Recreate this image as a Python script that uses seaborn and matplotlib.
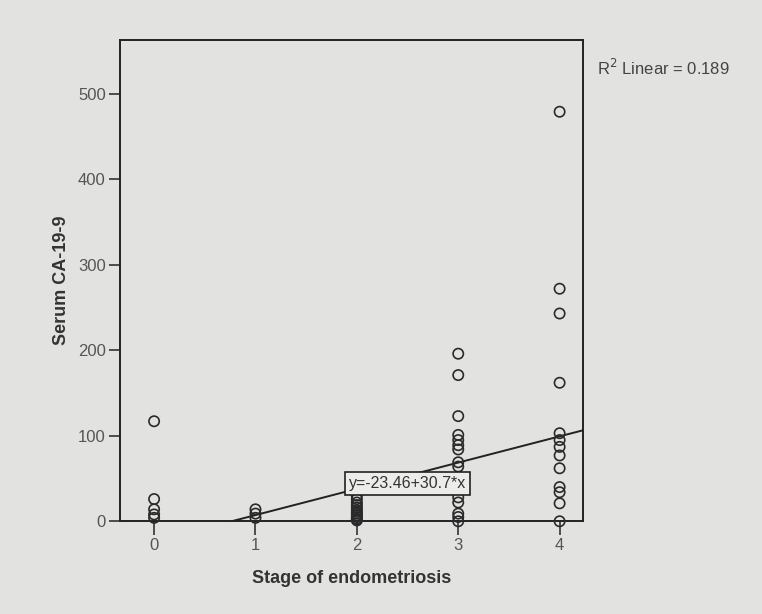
import matplotlib
matplotlib.use("Agg")
import matplotlib.pyplot as plt
import seaborn as sns
import numpy as np
import pandas as pd

# Data
stage0 = [117, 26, 14, 8, 4]
stage1 = [14, 9, 4]
stage2 = [30, 26, 22, 19, 16, 13, 11, 9, 7, 5, 3, 2, 1]
stage3 = [196, 171, 123, 101, 95, 89, 84, 69, 64, 52, 45, 38, 28, 22, 9, 5, 0]
stage4 = [479, 272, 243, 162, 103, 95, 87, 77, 62, 40, 34, 21, 0]
stages = [0, 1, 2, 3, 4]
intercept = -23.46
slope = 30.7
r2 = 0.189
yticks = [0, 100, 200, 300, 400, 500]

rows = []
for s, vals in zip(stages, [stage0, stage1, stage2, stage3, stage4]):
    for v in vals:
        rows.append((s, v))
df = pd.DataFrame(rows, columns=["stage", "ca199"])

sns.set_style("white")
plt.rcParams['font.family'] = ['Liberation Sans', 'DejaVu Sans']

bg = '#e2e3e1'
fig = plt.figure(figsize=(7.62, 6.14), dpi=100, facecolor=bg)
ax = fig.add_axes([0.157, 0.151, 0.608, 0.784])
ax.set_facecolor(bg)

sns.scatterplot(data=df, x="stage", y="ca199", ax=ax, marker='o', s=55,
                facecolor='none', edgecolor='#2a2a2a', linewidth=1.2, zorder=3,
                clip_on=False)

xlim = (-0.34, 4.23)
ylim = (0, 563)
line_x = np.array(xlim)
line_df = pd.DataFrame({"x": line_x, "y": intercept + slope * line_x})
sns.lineplot(data=line_df, x="x", y="y", ax=ax, color='#222222', linewidth=1.4, zorder=2)

ax.set_xlim(*xlim)
ax.set_ylim(*ylim)
ax.set_xticks(stages)
ax.set_yticks(yticks)
ax.tick_params(axis='both', which='major', direction='out', length=8, width=1.2,
               bottom=True, left=True, top=False, right=False,
               colors='#333333', labelcolor='#555555', labelsize=12, pad=2)
ax.tick_params(axis='x', length=10)
for sp in ax.spines.values():
    sp.set_color('#222222')
    sp.set_linewidth(1.4)

ax.set_xlabel("Stage of endometriosis", fontsize=13, fontweight='bold', color='#333333', labelpad=12)
ax.set_ylabel("Serum CA-19-9", fontsize=13, fontweight='bold', color='#333333', labelpad=6)

ax.text(2.5, 44, "y=-23.46+30.7*x", fontsize=11.5, color='#333333', ha='center', va='center',
        zorder=5, bbox=dict(boxstyle='square,pad=0.25', facecolor='#ececea', edgecolor='#222222', linewidth=1.2))

fig.text(0.783, 0.889, "R$^2$ Linear = %.3f" % r2, fontsize=12, color='#444444', ha='left', va='center')

fig.savefig("out.png", dpi=100, facecolor=bg)
